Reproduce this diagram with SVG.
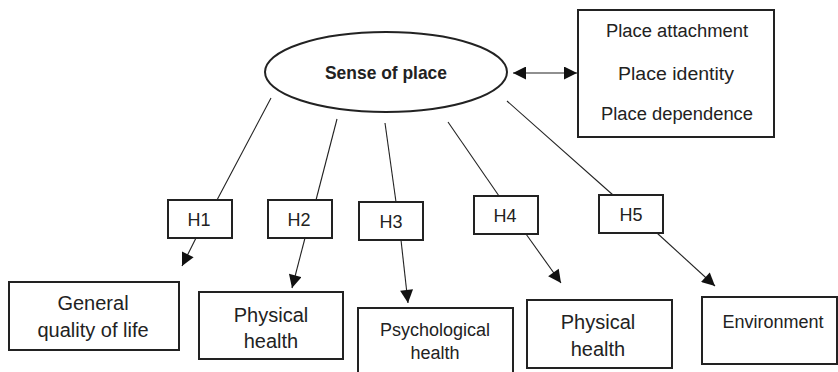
<svg xmlns="http://www.w3.org/2000/svg" width="838" height="372" viewBox="0 0 838 372">
<style>
.box{fill:#fff;stroke:#222;stroke-width:2}
.hbox{fill:#fff;stroke:#222;stroke-width:2}
.t{font-family:"Liberation Sans",Arial,sans-serif;fill:#222;text-anchor:middle}
.conn{stroke:#222;stroke-width:1.1;fill:none}
.arr{stroke:#222;stroke-width:1.1;fill:none;marker-end:url(#ah)}
</style>
<defs>
<marker id="ah" viewBox="0 0 10 10" refX="10" refY="5" markerUnits="userSpaceOnUse" markerWidth="14" markerHeight="13" orient="auto-start-reverse">
<path d="M0,0 L10,5 L0,10 z" fill="#111"/>
</marker>
</defs>
<rect width="838" height="372" fill="#fff"/>
<g id="connectors">
<line class="conn" x1="271" y1="98" x2="217" y2="200"/>
<line class="conn" x1="337" y1="119" x2="316" y2="200"/>
<line class="conn" x1="385" y1="123" x2="396" y2="202"/>
<line class="conn" x1="448" y1="122" x2="499" y2="196"/>
<line class="conn" x1="507" y1="101" x2="613" y2="195"/>
<line class="arr" x1="196" y1="238" x2="182" y2="266"/>
<line class="arr" x1="305" y1="238" x2="292" y2="288"/>
<line class="arr" x1="401" y1="240" x2="408" y2="303"/>
<line class="arr" x1="526" y1="234" x2="561" y2="283"/>
<line class="arr" x1="657" y1="233" x2="715" y2="286"/>
<line class="conn" x1="513" y1="73" x2="577" y2="73" marker-start="url(#ah)" marker-end="url(#ah)"/>
</g>
<g id="sense">
<ellipse cx="386" cy="72" rx="121" ry="40" fill="#fff" stroke="#222" stroke-width="2"/>
<text class="t" x="386" y="79" font-size="19" font-weight="bold" textLength="122" lengthAdjust="spacingAndGlyphs">Sense of place</text>
</g>
<g id="dimensions">
<rect class="box" x="578" y="10" width="196" height="127"/>
<text class="t" x="677" y="37" font-size="18" textLength="142" lengthAdjust="spacingAndGlyphs">Place attachment</text>
<text class="t" x="676" y="80" font-size="18" textLength="116" lengthAdjust="spacingAndGlyphs">Place identity</text>
<text class="t" x="677" y="120" font-size="18" textLength="152" lengthAdjust="spacingAndGlyphs">Place dependence</text>
</g>
<g id="h1"><rect class="hbox" x="168" y="200" width="64" height="38"/><text class="t" x="199" y="226" font-size="18">H1</text></g>
<g id="h2"><rect class="hbox" x="268" y="200" width="64" height="38"/><text class="t" x="299" y="226" font-size="18">H2</text></g>
<g id="h3"><rect class="hbox" x="359" y="202" width="64" height="38"/><text class="t" x="391" y="228" font-size="18">H3</text></g>
<g id="h4"><rect class="hbox" x="474" y="196" width="64" height="38"/><text class="t" x="505" y="222" font-size="18">H4</text></g>
<g id="h5"><rect class="hbox" x="599" y="195" width="64" height="38"/><text class="t" x="631" y="221" font-size="18">H5</text></g>
<g id="general">
<rect class="box" x="9" y="282" width="170" height="68"/>
<text class="t" x="93" y="310" font-size="20">General</text>
<text class="t" x="93" y="337" font-size="20">quality of life</text>
</g>
<g id="physical1">
<rect class="box" x="199" y="292" width="144" height="67"/>
<text class="t" x="271" y="322" font-size="20">Physical</text>
<text class="t" x="271" y="348" font-size="20">health</text>
</g>
<g id="psychological">
<rect class="box" x="358" y="308" width="155" height="66"/>
<text class="t" x="435" y="336" font-size="18">Psychological</text>
<text class="t" x="435" y="359" font-size="18">health</text>
</g>
<g id="physical2">
<rect class="box" x="527" y="300" width="145" height="68"/>
<text class="t" x="598" y="329" font-size="20">Physical</text>
<text class="t" x="598" y="356" font-size="20">health</text>
</g>
<g id="environment">
<rect class="box" x="702" y="297" width="135" height="67"/>
<text class="t" x="773" y="328" font-size="18">Environment</text>
</g>
</svg>
